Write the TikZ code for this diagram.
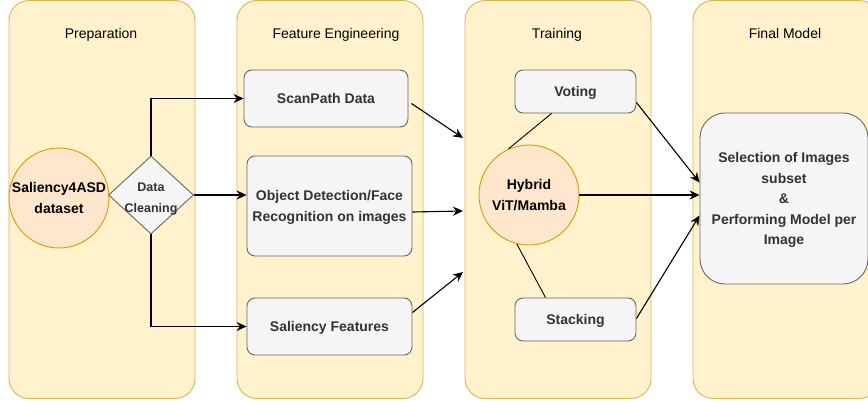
\documentclass[tikz,border=0pt]{standalone}
\usepackage{fontspec}
\setmainfont{Liberation Sans}
\usetikzlibrary{shapes.geometric,arrows.meta}
\definecolor{laneFill}{HTML}{FFF2CC}
\definecolor{laneDraw}{HTML}{D6B656}
\definecolor{circFill}{HTML}{FFE6CC}
\definecolor{circDraw}{HTML}{D79B00}
\definecolor{boxFill}{HTML}{F5F5F5}
\definecolor{boxDraw}{HTML}{666666}
\definecolor{boxText}{HTML}{333333}

\begin{document}
\begin{tikzpicture}
[x=1pt,y=-1pt,%
  laneDecorate/.style={draw=laneDraw,fill=laneFill,line width=0.9pt,rounded corners=20pt,minimum width=186pt,minimum height=398pt,inner sep=0pt},%
  titleDecorate/.style={text=black,anchor=base,inner sep=0pt},%
  boxDecorate/.style={draw=boxDraw,fill=boxFill,text=boxText,line width=0.9pt,font=\bfseries,align=center,text depth=0pt,rounded corners=8pt,inner sep=0pt},%
  circleDecorate/.style={shape=circle,draw=circDraw,fill=circFill,line width=0.9pt,font=\bfseries,align=center,text depth=0pt,minimum size=100pt,inner sep=0pt},%
  diamondDecorate/.style={shape=diamond,draw=boxDraw,fill=boxFill,line width=0.9pt,minimum width=85pt,minimum height=78pt,inner sep=0pt},%
  arrowDecorate/.style={-{Stealth[length=10pt,width=9pt]},line width=1.1pt},%
  lineDecorate/.style={-,line width=0.9pt}]
\fontsize{14}{20.5}\selectfont
\useasboundingbox (0,0) rectangle (868,401);
\clip (0,0) rectangle (868,401);
%% lanes
\foreach \nodename/\x/\tx/\title in {prep/102/101/Preparation, feat/330/336/Feature Engineering, train/558/557/Training, final/786/785/Final Model}
{
  \node (\nodename) at (\x,199.5) [laneDecorate] {};
  \node (\nodename Title) at (\tx,39) [titleDecorate] {\title};
}
%% nodes
\node (dataset) at (59,198) [circleDecorate] {Saliency4ASD\\dataset};
\node (cleaning) at (151,195) [diamondDecorate] {};
\node (cleaningText) at (151,198) [align=center,text=boxText,text depth=0pt,font=\fontsize{12.5}{21}\selectfont\bfseries] {Data\\Cleaning};
\node (scanpath) at (326,98.5) [boxDecorate,minimum width=164pt,minimum height=57pt] {ScanPath Data};
\node (objdet) at (329.5,206) [boxDecorate,minimum width=165pt,minimum height=100pt] {Object Detection/Face\\Recognition on images};
\node (saliency) at (329.5,326.5) [boxDecorate,minimum width=165pt,minimum height=57pt] {Saliency Features};
\node (voting) at (575.5,91.5) [boxDecorate,minimum width=121pt,minimum height=43pt] {Voting};
\node (stacking) at (575.5,319.5) [boxDecorate,minimum width=121pt,minimum height=43pt] {Stacking};
\node (hybrid) at (529,195) [circleDecorate] {Hybrid\\ViT/Mamba};
\node (selection) at (784,198.5) [boxDecorate,rounded corners=25pt,minimum width=168pt,minimum height=171pt] {Selection of Images\\subset\\\&\\Performing Model per\\Image};
%% free ends at the training lane
\coordinate (inTop) at (463,138);
\coordinate (inMid) at (463,211);
\coordinate (inBot) at (463,272);
%% edges or lines
\draw[arrowDecorate] (cleaning.north) |- (scanpath.west);
\draw[arrowDecorate] (cleaning.east) -- (cleaning.east -| objdet.west);
\draw[arrowDecorate] (cleaning.south) |- (saliency.west);
\draw[arrowDecorate] ([xshift=3pt,yshift=-5pt]scanpath.east) -- (inTop);
\draw[arrowDecorate] ([yshift=-6pt]objdet.east) -- (inMid);
\draw[arrowDecorate] ([yshift=14pt]saliency.east) -- (inBot);
\draw[lineDecorate] ([xshift=-24pt]voting.south) -- (hybrid.114);
\draw[lineDecorate] (hybrid.256) -- ([xshift=-30pt]stacking.north);
\draw[arrowDecorate] (hybrid.east) -- (hybrid.east -| selection.west);
\draw[arrowDecorate] ([yshift=-11pt]voting.east) -- ([yshift=16pt]selection.west);
\draw[arrowDecorate] ([yshift=1pt]stacking.east) -- ([yshift=-17pt]selection.west);
\end{tikzpicture}
\end{document}
